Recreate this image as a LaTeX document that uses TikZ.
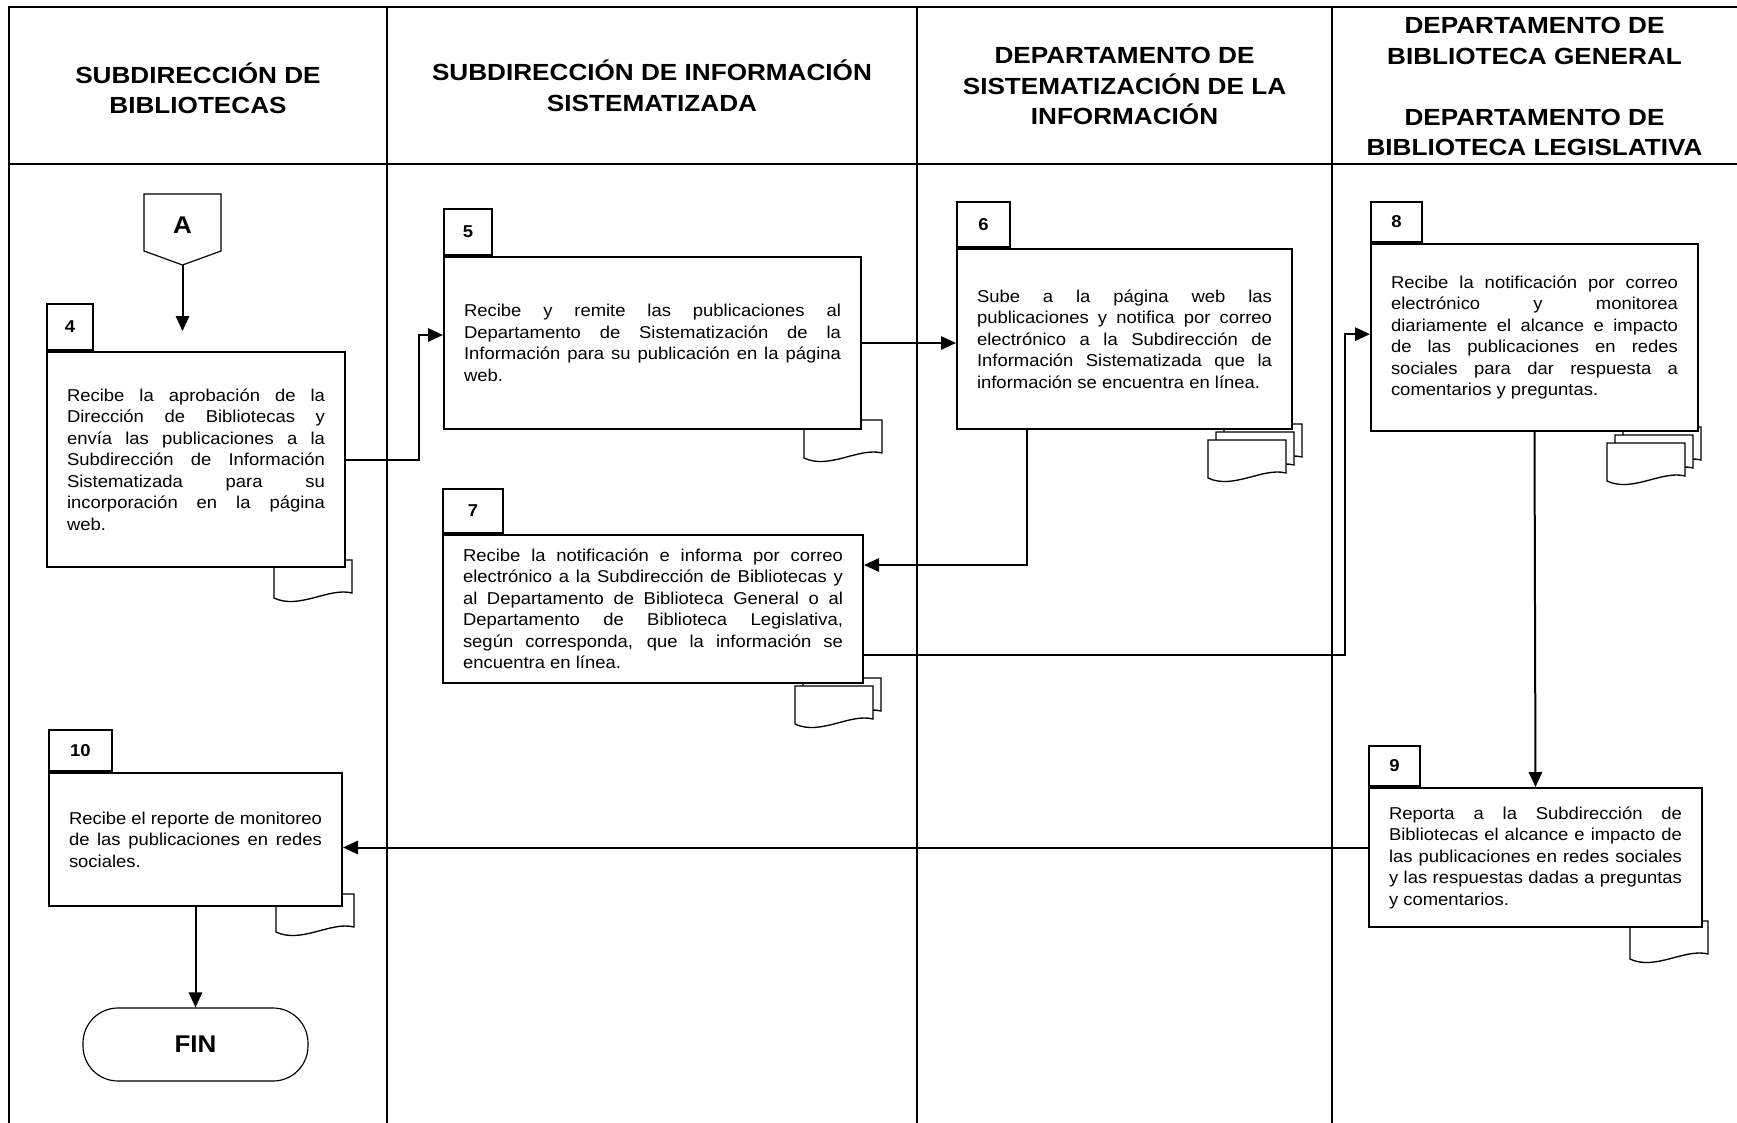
\documentclass[tikz,border=0pt]{standalone}
\usepackage{fontspec}
\setmainfont{Liberation Sans}[FakeStretch=1.075]
\newfontfamily\headfont{Liberation Sans}[FakeStretch=1.12]
\usetikzlibrary{arrows.meta}

\begin{document}
\begin{tikzpicture}[x=0.6pt, y=-0.6pt,
    lane/.style={line width=1.6pt},
    head/.style={align=center, font=\headfont\bfseries\fontsize{14}{18.3}\selectfont},
    proc/.style={rectangle, draw, line width=1.2pt, fill=white, align=justify, inner xsep=12pt, inner ysep=4pt, font=\fontsize{10.3}{12.9}\selectfont},
    tab/.style={rectangle, draw, line width=1.2pt, fill=white, anchor=south west, inner sep=0pt, font=\bfseries\fontsize{10.3}{12}\selectfont},
    term/.style={rectangle, draw, rounded corners=21pt, line width=0.7pt, minimum width=135pt, minimum height=43.8pt, font=\bfseries\fontsize{14.5}{16}\selectfont},
    arrow/.style={-{Triangle[length=9pt, width=8pt]}, line width=1.2pt},
    docsheet/.pic={\draw[line width=0.8pt, fill=white] (0,0) -- (78,0) -- (78,33) .. controls (55,27) and (25,50) .. (0,38) -- cycle;}
]
\useasboundingbox (0,0) rectangle (1737,1123);

\draw[lane] (9,1123) -- (9,7) -- (1737,7);
\draw[lane] (9,164) -- (1737,164);
\draw[lane] (387,7) -- (387,1123);
\draw[lane] (917,7) -- (917,1123);
\draw[lane] (1332,7) -- (1332,1123);

\node[head] (h1) at (198,88.5) {SUBDIRECCIÓN DE\\BIBLIOTECAS};
\node[head] (h2) at (652,86) {SUBDIRECCIÓN DE INFORMACIÓN\\SISTEMATIZADA};
\node[head] (h3) at (1124.5,86) {DEPARTAMENTO DE\\SISTEMATIZACIÓN DE LA\\INFORMACIÓN};
\node[head] (h4) at (1534.5,86.5) {DEPARTAMENTO DE\\BIBLIOTECA GENERAL\\[18.3pt]DEPARTAMENTO DE\\BIBLIOTECA LEGISLATIVA};

\draw[line width=0.7pt] (144,194) -| (221,251) -- (182.5,265) -- (144,251) -- cycle;
\node[font=\bfseries\fontsize{14.5}{16}\selectfont] (conA) at (182.5,225) {A};
\coordinate (Atip) at (182.5,265);

\pic at (274,560) {docsheet};
\pic at (804,420) {docsheet};
\pic at (803,678) {docsheet};
\pic at (795,686) {docsheet};
\pic at (1224,424) {docsheet};
\pic at (1216,432) {docsheet};
\pic at (1208,440) {docsheet};
\pic at (1623,427) {docsheet};
\pic at (1615,435) {docsheet};
\pic at (1607,443) {docsheet};
\pic at (1630,921) {docsheet};
\pic at (276,894) {docsheet};

\node[proc, text width=154.8pt, minimum height=129pt] (b4) at (196,459.5) {Recibe la aprobación de la\linebreak Dirección de Bibliotecas y\linebreak envía las publicaciones a la\linebreak Subdirección de Información\linebreak Sistematizada para su\linebreak incorporación en la página\linebreak web.};
\node[proc, text width=226.2pt, minimum height=103.2pt] (b5) at (652.5,343) {Recibe y remite las publicaciones al\linebreak Departamento de Sistematización de la\linebreak Información para su publicación en la página\linebreak web.};
\node[proc, text width=177pt, minimum height=108pt] (b6) at (1124.5,339) {Sube a la página web las\linebreak publicaciones y notifica por correo\linebreak electrónico a la Subdirección de\linebreak Información Sistematizada que la\linebreak información se encuentra en línea.};
\node[proc, text width=228pt, minimum height=88.8pt] (b7) at (653,609) {Recibe la notificación e informa por correo\linebreak electrónico a la Subdirección de Bibliotecas y\linebreak al Departamento de Biblioteca General o al\linebreak Departamento de Biblioteca Legislativa,\linebreak según corresponda, que la información se\linebreak encuentra en línea.};
\node[proc, text width=172.2pt, minimum height=112.2pt] (b8) at (1534.5,337.5) {Recibe la notificación por correo\linebreak electrónico y monitorea\linebreak diariamente el alcance e impacto\linebreak de las publicaciones en redes\linebreak sociales para dar respuesta a\linebreak comentarios y preguntas.};
\node[proc, text width=175.8pt, minimum height=83.4pt] (b9) at (1535.5,857.5) {Reporta a la Subdirección de\linebreak Bibliotecas el alcance e impacto de\linebreak las publicaciones en redes sociales\linebreak y las respuestas dadas a preguntas\linebreak y comentarios.};
\node[proc, text width=151.8pt, minimum height=79.8pt] (b10) at (195.5,839.5) {Recibe el reporte de monitoreo\linebreak de las publicaciones en redes\linebreak sociales.};

\node[tab, minimum width=27.6pt, minimum height=27.6pt] (t4) at (b4.north west) {4};
\node[tab, minimum width=28.8pt, minimum height=27.6pt] (t5) at (b5.north west) {5};
\node[tab, minimum width=31.8pt, minimum height=27pt] (t6) at (b6.north west) {6};
\node[tab, minimum width=36pt, minimum height=26.4pt] (t7) at (b7.north west) {7};
\node[tab, minimum width=30.6pt, minimum height=24pt] (t8) at (b8.north west) {8};
\node[tab, minimum width=30.6pt, minimum height=24pt] (t9) at (b9.north west) {9};
\node[tab, minimum width=37.8pt, minimum height=24.6pt] (t10) at (b10.north west) {10};

\node[term] (fin) at (195.5,1044.5) {FIN};

\draw[arrow, shorten >=12pt] (Atip) -- (Atip |- b4.north);
\draw[arrow] (b4.east) -- ++(73,0) |- ([yshift=4.8pt]b5.west);
\draw[arrow] (b5.east) -- (b5.east -| b6.west);
\draw[arrow] ([xshift=-58.5pt]b6.south) |- ([yshift=26.4pt]b7.east);
\draw[arrow] ([yshift=-27.6pt]b7.east) -- ++(481,0) |- ([yshift=2pt]b8.west);
\draw[arrow] (b8.south) -- (b9.north);
\draw[arrow] ([yshift=6pt]b9.west) -- ([yshift=6pt]b9.west -| b10.east);
\draw[arrow] (b10.south) -- (fin.north);
\end{tikzpicture}
\end{document}
